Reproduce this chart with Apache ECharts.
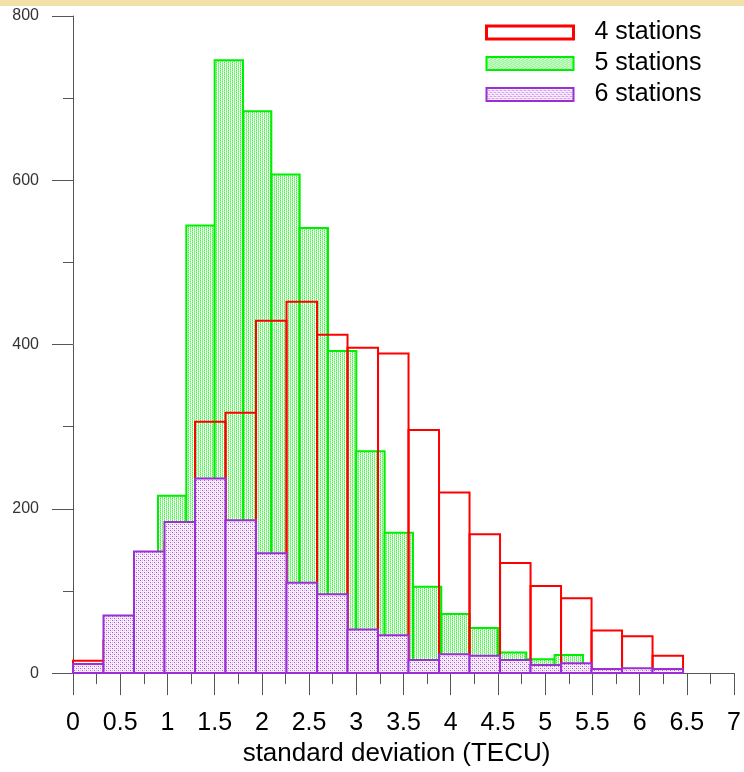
<!DOCTYPE html>
<html>
<head>
<meta charset="utf-8">
<script src="https://cdn.jsdelivr.net/npm/echarts@6/dist/echarts.min.js"></script>
<style>
  html, body { margin: 0; padding: 0; background: #fff; }
  #chart { width: 744px; height: 772px; position: relative; }
  #band { position: absolute; left: 0; top: 0; width: 744px; height: 6px; background: #f2e0a9; z-index: 5; }
</style>
</head>
<body>
<div id="band"></div>
<div id="chart"></div>
<script>
// ---- data ----
const seriesNames = ['4 stations', '5 stations', '6 stations'];
const xTicks = [0, 0.5, 1, 1.5, 2, 2.5, 3, 3.5, 4, 4.5, 5, 5.5, 6, 6.5, 7];
const yTicks = [0, 200, 400, 600, 800];

// 4 stations: bins of width 0.323 starting at 0
const st4BinStart = 0;
const st4BinWidth = 0.323;
const st4Counts = [15, 40, 100, 160, 306, 317, 429, 452, 412, 396, 389, 296, 220, 169, 134, 106, 91, 52, 45, 21];

// 5 stations: bins of width 0.3 starting at 0.3
const st5BinStart = 0.3;
const st5BinWidth = 0.3;
const st5Counts = [8, 45, 216, 545, 746, 684, 607, 542, 392, 270, 171, 105, 72, 55, 25, 17, 22, 1, 0, 0];

// 6 stations: bins of width 0.323 starting at 0
const st6BinStart = 0;
const st6BinWidth = 0.323;
const st6Counts = [11, 70, 148, 184, 237, 186, 146, 110, 96, 53, 46, 16, 23, 21, 16, 10, 12, 5, 6, 5];

// ---- build ----
function bins(start, width, counts) {
  return counts.map((c, i) => [start + i * width, start + (i + 1) * width, c]);
}

function makePattern(size, bg, dots) {
  const cv = document.createElement('canvas');
  cv.width = size; cv.height = size;
  const ctx = cv.getContext('2d');
  ctx.fillStyle = bg;
  ctx.fillRect(0, 0, size, size);
  dots.forEach(d => { ctx.fillStyle = d[2]; ctx.fillRect(d[0], d[1], 1, 1); });
  return { image: cv, repeat: 'repeat' };
}

const greenFill = makePattern(4, '#ffffff', [
  [0, 0, '#3ef03e'], [2, 0, '#9ff79f'], [0, 1, '#9ff79f'], [2, 1, '#5ef25e'],
  [0, 2, '#3ef03e'], [2, 2, '#9ff79f'], [0, 3, '#9ff79f'], [2, 3, '#5ef25e'],
  [1, 1, '#c8fac8'], [3, 3, '#c8fac8']
]);
const purpleFill = makePattern(4, '#fbf4fd', [
  [0, 0, '#b050e0'], [2, 2, '#b050e0'], [2, 0, '#dcb0f0'], [0, 2, '#dcb0f0'],
  [1, 1, '#efdcf8'], [3, 3, '#efdcf8']
]);

function histRender(fill, stroke) {
  return function (params, api) {
    const x0 = api.value(0), x1 = api.value(1), v = api.value(2);
    const pTop = api.coord([x0, v]);
    const pBot = api.coord([x1, 0]);
    return {
      type: 'rect',
      shape: { x: pTop[0], y: pTop[1], width: pBot[0] - pTop[0], height: pBot[1] - pTop[1] },
      style: { fill: fill, stroke: stroke, lineWidth: 2 }
    };
  };
}

const chart = echarts.init(document.getElementById('chart'), null, { renderer: 'canvas' });
const FONT = '"Liberation Sans", Arial, sans-serif';

const option = {
  animation: false,
  backgroundColor: '#ffffff',
  grid: { left: 73, right: 6, top: 16, bottom: 92, containLabel: false },
  legend: {
    orient: 'vertical',
    left: 485,
    top: 17,
    padding: 0,
    itemGap: 0,
    itemWidth: 87,
    itemHeight: 13,
    selectedMode: false,
    textStyle: { fontFamily: FONT, fontSize: 25, color: '#000', lineHeight: 31, padding: [0, 0, 0, 16] },
    data: [
      { name: seriesNames[0], icon: 'rect', itemStyle: { color: 'rgba(255,255,255,0)', borderColor: '#ff0000', borderWidth: 3 } },
      { name: seriesNames[1], icon: 'rect', itemStyle: { color: greenFill, borderColor: '#00ee00', borderWidth: 2 } },
      { name: seriesNames[2], icon: 'rect', itemStyle: { color: purpleFill, borderColor: '#9c2fd4', borderWidth: 2 } }
    ]
  },
  xAxis: {
    type: 'value',
    min: xTicks[0],
    max: xTicks[xTicks.length - 1],
    interval: xTicks[1] - xTicks[0],
    name: 'standard deviation (TECU)',
    nameLocation: 'middle',
    nameGap: 67,
    nameTextStyle: { fontFamily: FONT, fontSize: 26, color: '#000', padding: [0, 14, 0, 0] },
    axisLine: { show: true, onZero: false, lineStyle: { color: '#555', width: 1 } },
    axisTick: { show: true, inside: false, length: 22, lineStyle: { color: '#555', width: 1 } },
    minorTick: { show: true, splitNumber: 2, length: 11, lineStyle: { color: '#555', width: 1 } },
    splitLine: { show: false },
    axisLabel: { fontFamily: FONT, fontSize: 25, color: '#000', margin: 38 }
  },
  yAxis: {
    type: 'value',
    min: yTicks[0],
    max: yTicks[yTicks.length - 1],
    interval: yTicks[1] - yTicks[0],
    axisLine: { show: true, lineStyle: { color: '#555', width: 1 } },
    axisTick: { show: true, inside: false, length: 21, lineStyle: { color: '#555', width: 1 } },
    minorTick: { show: true, splitNumber: 2, length: 10, lineStyle: { color: '#555', width: 1 } },
    splitLine: { show: false },
    axisLabel: { fontFamily: FONT, fontSize: 16, color: '#333', margin: 34 }
  },
  series: [
    {
      name: seriesNames[1], type: 'custom',
      itemStyle: { color: '#00ee00' },
      encode: { x: [0, 1], y: 2 },
      renderItem: histRender(greenFill, '#00ee00'),
      data: bins(st5BinStart, st5BinWidth, st5Counts)
    },
    {
      name: seriesNames[0], type: 'custom',
      itemStyle: { color: '#ff0000' },
      encode: { x: [0, 1], y: 2 },
      renderItem: histRender('rgba(255,255,255,0)', '#ff0000'),
      data: bins(st4BinStart, st4BinWidth, st4Counts)
    },
    {
      name: seriesNames[2], type: 'custom',
      itemStyle: { color: '#9c2fd4' },
      encode: { x: [0, 1], y: 2 },
      renderItem: histRender(purpleFill, '#9c2fd4'),
      data: bins(st6BinStart, st6BinWidth, st6Counts)
    }
  ]
};
chart.setOption(option);
</script>
</body>
</html>
